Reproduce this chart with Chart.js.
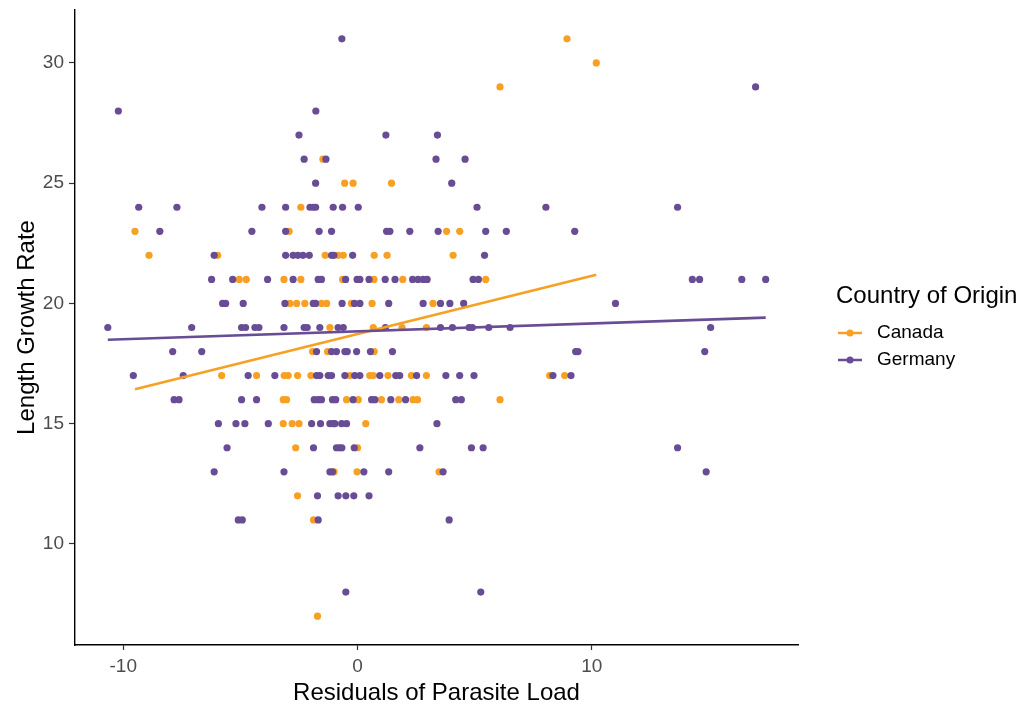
<!DOCTYPE html>
<html>
<head>
<meta charset="utf-8">
<title>Length Growth Rate vs Residuals of Parasite Load</title>
<script src="https://cdn.jsdelivr.net/npm/chart.js@4/dist/chart.umd.min.js"></script>
<style>
  html, body { margin: 0; padding: 0; background: #ffffff; }
  #wrap { width: 1031px; height: 709px; position: relative; }
</style>
</head>
<body>
<div id="wrap"><canvas id="chart" width="1031" height="709"></canvas></div>
<script>
// Fish from Canada: residual parasite load (x) and length growth rate (y)
const canadaX = [
  8.94, 10.19, 6.08, -1.48,
  -0.55, -0.19, 1.45,
  -2.42,
  -9.50, -2.92, 3.80, 4.36,
  -8.90, -5.97, -1.38, -0.83, -0.61, 0.71, 1.26, 4.08,
  -5.05, -4.75, -3.14, -2.42, -0.64, 0.70, 1.93, 5.47,
  -2.89, -2.60, -2.25, -1.54, -1.32, -0.26, 0.62, 3.22,
  -1.18, 0.67, 1.90, 2.94,
  -1.92, -1.28, 0.71,
  -5.80, -4.31, -3.13, -2.96, -2.56, -1.99, -0.33, 0.52, 0.67, 1.30, 2.30, 2.94, 8.20, 8.84,
  -3.17, -3.03, -0.47, 0.03, 1.02, 1.76, 2.37, 2.56, 6.08,
  -3.17, -2.79, -2.50, 0.35,
  -2.64, 0.00,
  -1.00, -0.02, 3.48,
  -2.56, -1.88, -1.71
];
const canadaY = [
  31, 30, 29, 26,
  25, 25, 25,
  24,
  23, 23, 23, 23,
  22, 22, 22, 22, 22, 22, 22, 22,
  21, 21, 21, 21, 21, 21, 21, 21,
  20, 20, 20, 20, 20, 20, 20, 20,
  19, 19, 19, 19,
  18, 18, 18,
  17, 17, 17, 17, 17, 17, 17, 17, 17, 17, 17, 17, 17, 17,
  16, 16, 16, 16, 16, 16, 16, 16, 16,
  15, 15, 15, 15,
  14, 14,
  13, 13, 13,
  12, 11, 7
];

// Fish from Germany
const germanyX = [
  -0.67, 16.99, -10.21, -1.78,
  -2.50, 1.21, 3.41,
  -2.28, -1.35, 3.35, 4.59,
  -1.79, 4.02,
  -9.34, -7.71, -4.08, -3.07, -2.03, -1.89, -1.79, -1.04, -0.64, 0.03, 5.10, 8.04, 13.66,
  -8.44, -4.51, -3.07, -1.64, -1.11, 1.24, 1.38, 2.23, 3.44, 5.47, 6.35, 9.27,
  -6.12, -3.07, -2.75, -2.55, -2.33, -2.06, -1.11, -1.01, -0.21, 5.42,
  -6.23, -5.33, -3.84, -2.75, -1.68, -1.54, -0.51, -0.02, 0.10, 0.49, 1.18, 1.60, 2.35, 2.58, 2.80, 2.97, 4.93, 5.16, 14.29, 14.60, 16.40, 17.42,
  -5.76, -5.63, -4.88, -3.10, -1.89, -1.79, -0.66, -0.13, 0.10, 1.33, 2.80, 3.54, 3.94, 4.53, 11.01,
  -10.66, -7.08, -4.95, -4.78, -4.38, -4.21, -3.14, -2.28, -2.15, -1.61, -0.83, -0.61, 1.19, 3.54, 4.05, 4.76, 4.90, 5.60, 6.51, 15.07,
  -7.89, -6.65, -1.75, -1.11, -0.90, -0.54, -0.44, -0.04, 0.55, 1.49, 9.31, 9.41, 14.82,
  -9.57, -7.44, -4.67, -3.53, -1.75, -1.61, -1.25, -1.11, -0.54, -0.12, 0.10, 0.95, 1.63, 1.80, 2.52, 3.77, 4.36, 4.97, 8.34, 9.11,
  -7.83, -7.62, -4.95, -4.31, -1.85, -1.68, -1.54, -1.07, -0.93, -0.19, 0.60, 0.74, 1.42, 2.05, 4.19, 4.43,
  -5.94, -5.19, -4.81, -3.81, -1.96, -1.58, -1.18, -1.04, -0.97, -0.68, -0.47, 3.39,
  -5.57, -1.88, -0.90, -0.78, -0.67, -0.14, 2.66, 4.86, 5.36, 13.66,
  -6.12, -3.14, -1.18, -1.07, 0.27, 1.33, 3.65, 14.88,
  -1.71, -0.83, -0.50, -0.16, 0.49,
  -5.09, -4.92, -1.68, 3.91,
  -0.50, 5.26
];
const germanyY = [
  31, 29, 28, 28,
  27, 27, 27,
  26, 26, 26, 26,
  25, 25,
  24, 24, 24, 24, 24, 24, 24, 24, 24, 24, 24, 24, 24,
  23, 23, 23, 23, 23, 23, 23, 23, 23, 23, 23, 23,
  22, 22, 22, 22, 22, 22, 22, 22, 22, 22,
  21, 21, 21, 21, 21, 21, 21, 21, 21, 21, 21, 21, 21, 21, 21, 21, 21, 21, 21, 21, 21, 21,
  20, 20, 20, 20, 20, 20, 20, 20, 20, 20, 20, 20, 20, 20, 20,
  19, 19, 19, 19, 19, 19, 19, 19, 19, 19, 19, 19, 19, 19, 19, 19, 19, 19, 19, 19,
  18, 18, 18, 18, 18, 18, 18, 18, 18, 18, 18, 18, 18,
  17, 17, 17, 17, 17, 17, 17, 17, 17, 17, 17, 17, 17, 17, 17, 17, 17, 17, 17, 17,
  16, 16, 16, 16, 16, 16, 16, 16, 16, 16, 16, 16, 16, 16, 16, 16,
  15, 15, 15, 15, 15, 15, 15, 15, 15, 15, 15, 15,
  14, 14, 14, 14, 14, 14, 14, 14, 14, 14,
  13, 13, 13, 13, 13, 13, 13, 13,
  12, 12, 12, 12, 12,
  11, 11, 11, 11,
  8, 8
];

// Linear fits (growth = intercept + slope * residual) for each country
const canadaFit = { intercept: 18.73, slope: 0.2421 };
const germanyFit = { intercept: 18.84, slope: 0.0328 };

// Axis ticks and titles
const xTickValues = [-10, 0, 10];
const yTickValues = [10, 15, 20, 25, 30];
const xTitle = 'Residuals of Parasite Load';
const yTitle = 'Length Growth Rate';
const legendTitle = 'Country of Origin';
const seriesNames = ['Canada', 'Germany'];
const seriesColors = ['#F7A023', '#684C94'];

const FONT = '"Liberation Sans", Arial, Helvetica, sans-serif';

function toPoints(xs, ys) {
  return xs.map((x, i) => ({ x: x, y: ys[i] }));
}
function fitLine(xs, fit) {
  const lo = Math.min(...xs), hi = Math.max(...xs);
  return [lo, hi].map(x => ({ x: x, y: fit.intercept + fit.slope * x }));
}

// Legend on the right: title plus a line-and-dot key per country
const sideLegend = {
  id: 'sideLegend',
  afterDraw(chart) {
    const ctx = chart.ctx;
    ctx.save();
    ctx.textBaseline = 'middle';
    ctx.textAlign = 'left';
    ctx.fillStyle = '#000000';
    ctx.font = '24px ' + FONT;
    ctx.fillText(legendTitle, 836, 296);
    ctx.font = '19px ' + FONT;
    seriesNames.forEach((name, i) => {
      const y = 333 + i * 27;
      ctx.strokeStyle = seriesColors[i];
      ctx.lineWidth = 2.5;
      ctx.beginPath();
      ctx.moveTo(838, y);
      ctx.lineTo(862, y);
      ctx.stroke();
      ctx.fillStyle = seriesColors[i];
      ctx.beginPath();
      ctx.arc(850, y, 3.5, 0, Math.PI * 2);
      ctx.fill();
      ctx.fillStyle = '#000000';
      ctx.fillText(name, 877, y);
    });
    ctx.restore();
  }
};

const pointStyle = { pointRadius: 3.6, pointBorderWidth: 0, pointHoverRadius: 3.6, showLine: false };

new Chart(document.getElementById('chart'), {
  type: 'scatter',
  data: {
    datasets: [
      Object.assign({ label: 'Canada', data: toPoints(canadaX, canadaY),
        backgroundColor: seriesColors[0], borderColor: seriesColors[0], order: 3 }, pointStyle),
      Object.assign({ label: 'Germany', data: toPoints(germanyX, germanyY),
        backgroundColor: seriesColors[1], borderColor: seriesColors[1], order: 2 }, pointStyle),
      { type: 'line', label: 'Canada fit', data: fitLine(canadaX, canadaFit),
        borderColor: seriesColors[0], borderWidth: 2.6, pointRadius: 0, fill: false, order: 1 },
      { type: 'line', label: 'Germany fit', data: fitLine(germanyX, germanyFit),
        borderColor: seriesColors[1], borderWidth: 2.6, pointRadius: 0, fill: false, order: 0 }
    ]
  },
  options: {
    responsive: false,
    animation: false,
    devicePixelRatio: 1,
    layout: { padding: { top: 10, right: 233, bottom: 0, left: 0 } },
    plugins: { legend: { display: false }, tooltip: { enabled: false } },
    scales: {
      x: {
        type: 'linear',
        min: -12.06,
        max: 18.8,
        afterBuildTicks: s => { s.ticks = xTickValues.map(v => ({ value: v })); },
        afterFit: s => { s.height = 64; s.paddingLeft = 0; s.paddingRight = 0; },
        grid: { drawOnChartArea: false, drawTicks: true, tickLength: 5, color: '#333333', tickWidth: 1.2 },
        border: { display: true, color: '#000000', width: 1.4 },
        ticks: { color: '#4D4D4D', font: { family: FONT, size: 19 }, padding: 5, maxRotation: 0 },
        title: { display: true, text: xTitle, color: '#000000',
          font: { family: FONT, size: 24 }, padding: { top: 0, bottom: 1 } }
      },
      y: {
        type: 'linear',
        min: 5.8,
        max: 32.2,
        afterBuildTicks: s => { s.ticks = yTickValues.map(v => ({ value: v })); },
        afterFit: s => { s.width = 75; s.paddingTop = 0; s.paddingBottom = 0; },
        grid: { drawOnChartArea: false, drawTicks: true, tickLength: 6, color: '#333333', tickWidth: 1.2 },
        border: { display: true, color: '#000000', width: 1.4 },
        ticks: { color: '#4D4D4D', font: { family: FONT, size: 19 }, padding: 5 },
        title: { display: true, text: yTitle, color: '#000000',
          font: { family: FONT, size: 24 }, padding: { top: 13, bottom: 0 } }
      }
    }
  },
  plugins: [sideLegend]
});
</script>
</body>
</html>
